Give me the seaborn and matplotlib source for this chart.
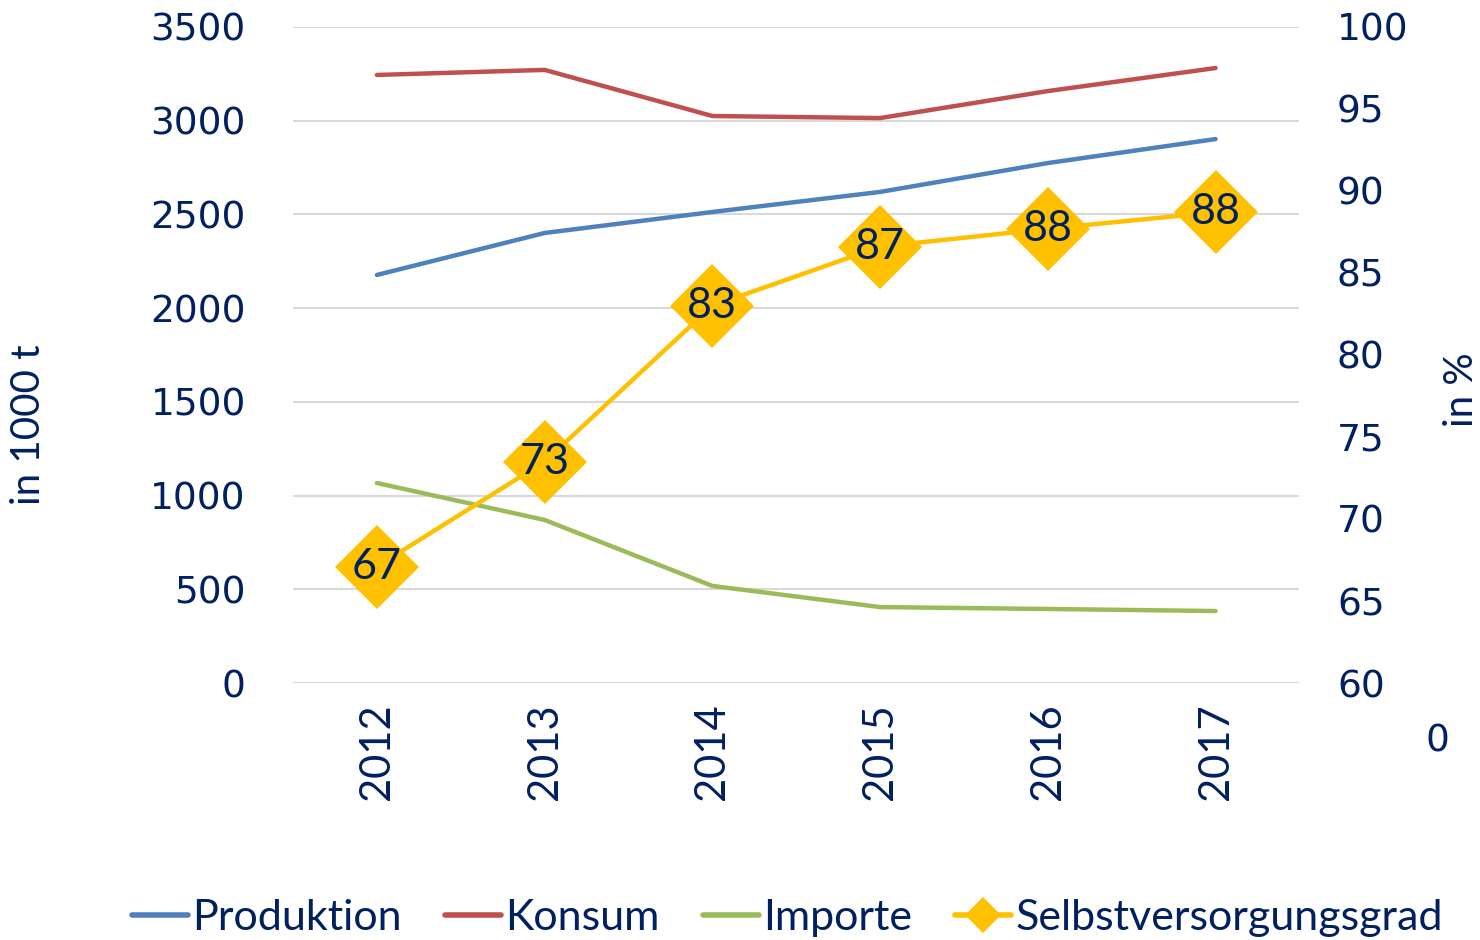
import matplotlib
matplotlib.use("Agg")
import matplotlib.pyplot as plt
import seaborn as sns
import pandas as pd
from matplotlib.lines import Line2D

years = ["2012", "2013", "2014", "2015", "2016", "2017"]
produktion = [2177, 2401, 2513, 2620, 2774, 2902]
konsum = [3244, 3271, 3025, 3014, 3158, 3281]
importe = [1067, 870, 518, 405, 395, 384]
svg = [67, 73, 83, 87, 88, 88]
svg_pos = [67.1, 73.5, 83.0, 86.6, 87.7, 88.7]

navy = "#002060"
colors = {"Produktion": "#4F81BD", "Konsum": "#C0504D", "Importe": "#9BBB59"}
gold = "#FFC000"
label_font = ["Lato", "DejaVu Sans"]

sns.set_theme(style="white")
plt.rcParams["font.family"] = ["DejaVu Sans"]

df = pd.DataFrame({
    "Jahr": years * 3,
    "Wert": produktion + konsum + importe,
    "Serie": ["Produktion"] * 6 + ["Konsum"] * 6 + ["Importe"] * 6,
})

fig = plt.figure(figsize=(14.8, 9.4), dpi=100)
ax = fig.add_axes([0.198, 0.2734, 0.68, 0.6979])

sns.lineplot(data=df, x="Jahr", y="Wert", hue="Serie", palette=colors,
             linewidth=3.2, ax=ax, legend=False, sort=False)
ax.set_xlim(-0.5, 5.5)
ax.set_ylim(0, 3500)
ax.set_yticks(range(0, 3501, 500))
ax.grid(axis="y", color="#D9D9D9", linewidth=1.5)
ax.set_axisbelow(True)
for s in ax.spines.values():
    s.set_visible(False)
ax.tick_params(axis="y", labelsize=27, colors=navy, length=0, pad=34)
ax.tick_params(axis="x", length=0, pad=15)
ax.set_xticks(range(6))
ax.set_xticklabels(years, rotation=90, fontsize=30, color=navy, family=label_font)
ax.set_xlabel("")
ax.set_ylabel("in 1000 t", fontsize=29, color=navy, family=label_font)
ax.yaxis.set_label_coords(-0.2445, 0.393)

ax2 = ax.twinx()
sv = pd.DataFrame({"Jahr": years, "Grad": svg_pos})
sns.lineplot(data=sv, x="Jahr", y="Grad", color=gold, linewidth=3.2, marker="D",
             markersize=43, markeredgewidth=0, ax=ax2, sort=False)
ax2.set_ylim(60, 100)
ax2.set_yticks(range(60, 101, 5))
ax2.tick_params(axis="y", labelsize=27, colors=navy, length=0, pad=27)
for s in ax2.spines.values():
    s.set_visible(False)
ax2.set_ylabel("in %", fontsize=29, color=navy, family=label_font)
ax2.yaxis.set_label_coords(1.143, 0.447)
for i, v in enumerate(svg):
    ax2.text(i, svg_pos[i], str(v), ha="center", va="center", fontsize=31,
             color=navy, family=label_font)
ax2.text(1.137, -0.089, "0", transform=ax.transAxes, ha="center", va="center",
         fontsize=27, color=navy)

handles = [Line2D([], [], color=colors[k], linewidth=4) for k in colors]
handles.append(Line2D([], [], color=gold, linewidth=4, marker="D", markersize=18,
                      markeredgewidth=0))
fig.legend(handles, list(colors) + ["Selbstversorgungsgrad"], loc="center",
           bbox_to_anchor=(0.532, 0.023), ncol=4, frameon=False, handlelength=1.3,
           handletextpad=0.1, columnspacing=1.0,
           prop={"family": label_font, "size": 31}, labelcolor=navy)

fig.savefig("out.png", dpi=100)
